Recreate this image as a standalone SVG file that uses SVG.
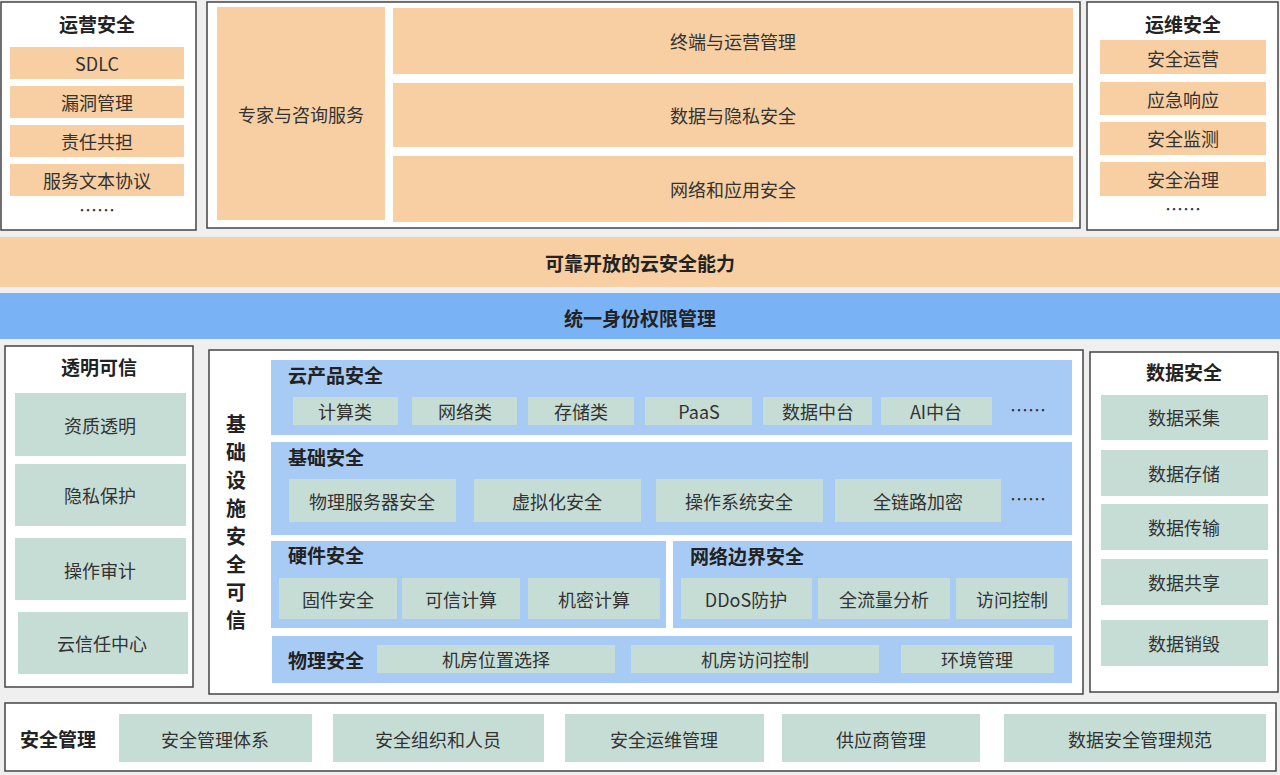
<svg xmlns="http://www.w3.org/2000/svg" width="1280" height="775" viewBox="0 0 1280 775">
<style>
text{font-family:"Noto Sans CJK SC","Liberation Sans",sans-serif;fill:#333;text-anchor:middle;dominant-baseline:central;font-size:18px}
.b{font-weight:bold;fill:#222;font-size:19px}
.v{font-size:20px}
.l{text-anchor:start}
.frame{fill:#fff;stroke:#444;stroke-width:1.5}
.o{fill:#f7cfa2}
.bl{fill:#a8cbf6}
.g{fill:#c6ddd5}
</style>
<rect width="1280" height="775" fill="#efefef"/>
<g id="ops">
<rect class="frame" x="1" y="2" width="195" height="228"/>
<text class="b" x="97" y="23">运营安全</text>
<rect class="o" x="10" y="47" width="174" height="32"/><text x="97" y="63">SDLC</text>
<rect class="o" x="10" y="86" width="174" height="32"/><text x="97" y="102">漏洞管理</text>
<rect class="o" x="10" y="125" width="174" height="32"/><text x="97" y="141">责任共担</text>
<rect class="o" x="10" y="164" width="174" height="32"/><text x="97" y="180">服务文本协议</text>
<text x="97" y="209">……</text>
</g>
<g id="services">
<rect class="frame" x="207" y="2" width="873" height="226"/>
<rect class="o" x="217" y="7" width="168" height="213"/><text x="301" y="114">专家与咨询服务</text>
<rect class="o" x="393" y="8" width="680" height="66"/><text x="733" y="41">终端与运营管理</text>
<rect class="o" x="393" y="83" width="680" height="64"/><text x="733" y="115">数据与隐私安全</text>
<rect class="o" x="393" y="156" width="680" height="66"/><text x="733" y="189">网络和应用安全</text>
</g>
<g id="maint">
<rect class="frame" x="1087" y="2" width="191" height="228"/>
<text class="b" x="1183" y="23">运维安全</text>
<rect class="o" x="1100" y="40" width="166" height="34"/><text x="1183" y="58">安全运营</text>
<rect class="o" x="1100" y="82" width="166" height="33"/><text x="1183" y="99">应急响应</text>
<rect class="o" x="1100" y="122" width="166" height="33"/><text x="1183" y="138">安全监测</text>
<rect class="o" x="1100" y="162" width="166" height="34"/><text x="1183" y="179">安全治理</text>
<text x="1183" y="208">……</text>
</g>
<g id="cap">
<rect class="o" x="0" y="237" width="1280" height="50"/>
<text class="b" x="640" y="262">可靠开放的云安全能力</text>
</g>
<g id="iam">
<rect fill="#7ab3f5" x="0" y="293" width="1280" height="46"/>
<text class="b" x="640" y="317">统一身份权限管理</text>
</g>
<g id="trans">
<rect class="frame" x="5" y="346" width="188" height="341"/>
<text class="b" x="99" y="366">透明可信</text>
<rect class="g" x="15" y="393" width="171" height="63"/><text x="100" y="425">资质透明</text>
<rect class="g" x="15" y="464" width="171" height="62"/><text x="100" y="495">隐私保护</text>
<rect class="g" x="15" y="538" width="171" height="62"/><text x="100" y="570">操作审计</text>
<rect class="g" x="18" y="612" width="170" height="62"/><text x="102" y="643">云信任中心</text>
</g>
<g id="infra">
<rect class="frame" x="209" y="350" width="874" height="344"/>
<text class="b v" x="236" y="423">基</text><text class="b v" x="236" y="451">础</text><text class="b v" x="236" y="479">设</text><text class="b v" x="236" y="507">施</text><text class="b v" x="236" y="535">安</text><text class="b v" x="236" y="563">全</text><text class="b v" x="236" y="591">可</text><text class="b v" x="236" y="619">信</text>
<rect class="bl" x="271" y="360" width="801" height="75"/>
<text class="b l" x="288" y="374">云产品安全</text>
<rect class="g" x="293" y="397" width="105" height="28"/><text x="345" y="411">计算类</text>
<rect class="g" x="412" y="397" width="105" height="28"/><text x="465" y="411">网络类</text>
<rect class="g" x="528" y="397" width="106" height="28"/><text x="581" y="411">存储类</text>
<rect class="g" x="645" y="397" width="107" height="28"/><text x="699" y="411">PaaS</text>
<rect class="g" x="763" y="397" width="109" height="28"/><text x="818" y="411">数据中台</text>
<rect class="g" x="881" y="397" width="111" height="28"/><text x="936" y="411">AI中台</text>
<text x="1028" y="409">……</text>
<rect class="bl" x="271" y="442" width="801" height="93"/>
<text class="b l" x="288" y="456">基础安全</text>
<rect class="g" x="289" y="479" width="167" height="43"/><text x="372" y="501">物理服务器安全</text>
<rect class="g" x="474" y="479" width="167" height="43"/><text x="557" y="501">虚拟化安全</text>
<rect class="g" x="656" y="479" width="167" height="43"/><text x="739" y="501">操作系统安全</text>
<rect class="g" x="835" y="479" width="166" height="43"/><text x="918" y="501">全链路加密</text>
<text x="1028" y="498">……</text>
<rect class="bl" x="271" y="541" width="395" height="87"/>
<text class="b l" x="288" y="554">硬件安全</text>
<rect class="g" x="279" y="578" width="118" height="41"/><text x="338" y="599">固件安全</text>
<rect class="g" x="402" y="578" width="118" height="41"/><text x="461" y="599">可信计算</text>
<rect class="g" x="528" y="578" width="132" height="41"/><text x="594" y="599">机密计算</text>
<rect class="bl" x="673" y="541" width="399" height="87"/>
<text class="b l" x="690" y="555">网络边界安全</text>
<rect class="g" x="681" y="578" width="131" height="41"/><text x="746" y="599">DDoS防护</text>
<rect class="g" x="818" y="578" width="132" height="41"/><text x="884" y="599">全流量分析</text>
<rect class="g" x="956" y="578" width="112" height="41"/><text x="1012" y="599">访问控制</text>
<rect class="bl" x="272" y="636" width="800" height="47"/>
<text class="b l" x="288" y="659">物理安全</text>
<rect class="g" x="377" y="645" width="238" height="28"/><text x="496" y="659">机房位置选择</text>
<rect class="g" x="631" y="645" width="248" height="28"/><text x="755" y="659">机房访问控制</text>
<rect class="g" x="901" y="645" width="153" height="28"/><text x="977" y="659">环境管理</text>
</g>
<g id="data">
<rect class="frame" x="1090" y="352" width="188" height="340"/>
<text class="b" x="1184" y="371">数据安全</text>
<rect class="g" x="1101" y="395" width="167" height="45"/><text x="1184" y="417">数据采集</text>
<rect class="g" x="1101" y="450" width="167" height="46"/><text x="1184" y="473">数据存储</text>
<rect class="g" x="1101" y="504" width="167" height="46"/><text x="1184" y="527">数据传输</text>
<rect class="g" x="1101" y="559" width="167" height="46"/><text x="1184" y="582">数据共享</text>
<rect class="g" x="1101" y="620" width="167" height="46"/><text x="1184" y="643">数据销毁</text>
</g>
<g id="mgmt">
<rect class="frame" x="5" y="703" width="1271" height="68"/>
<text class="b l" x="20" y="738">安全管理</text>
<rect class="g" x="119" y="714" width="193" height="48"/><text x="215" y="739">安全管理体系</text>
<rect class="g" x="333" y="714" width="211" height="48"/><text x="438" y="739">安全组织和人员</text>
<rect class="g" x="565" y="714" width="199" height="48"/><text x="664" y="739">安全运维管理</text>
<rect class="g" x="782" y="714" width="198" height="48"/><text x="881" y="739">供应商管理</text>
<rect class="g" x="1004" y="714" width="262" height="48"/><text x="1140" y="739">数据安全管理规范</text>
</g>
<g id="connectors"/>
</svg>
